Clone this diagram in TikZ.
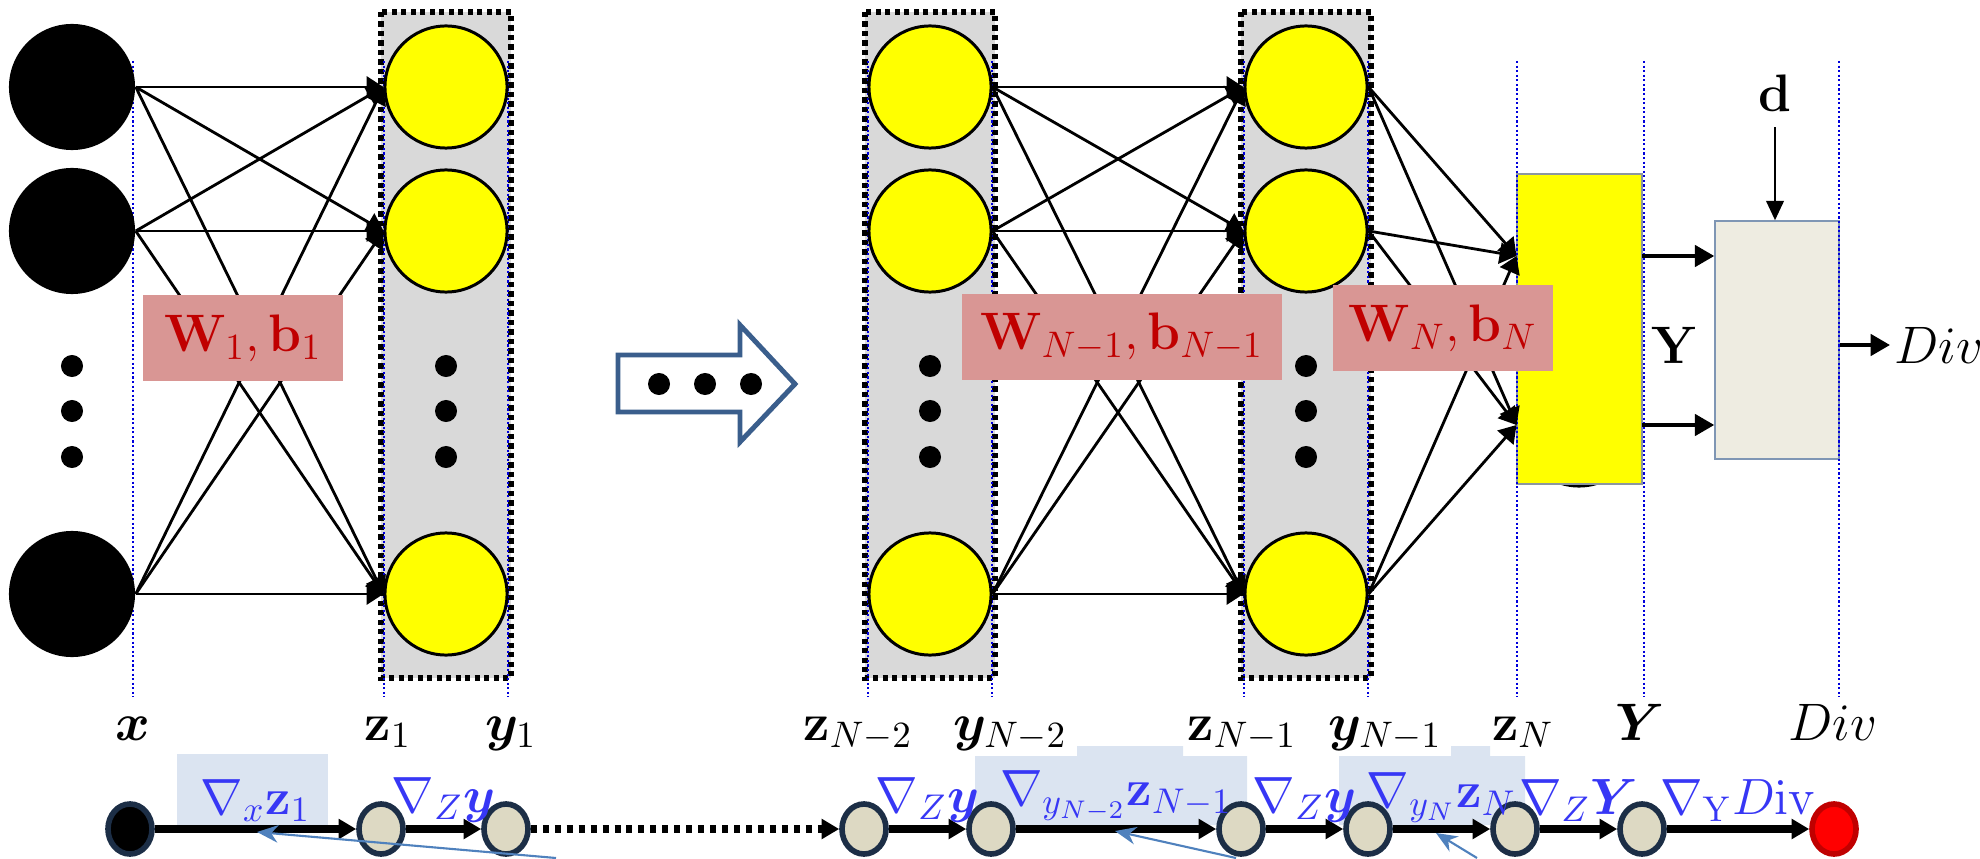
\documentclass[tikz,border=0pt]{standalone}
\usepackage{fix-cm}
\usepackage{amsmath,amssymb}
\usepackage{bm}
\usepackage{tikz}
\usetikzlibrary{arrows.meta,positioning,calc,shapes.geometric}
\usepackage{xcolor}
\definecolor{boxgray}{RGB}{217,217,217}
\definecolor{wfill}{RGB}{217,150,148}
\definecolor{wtext}{RGB}{192,0,0}
\definecolor{guide}{RGB}{0,0,220}
\definecolor{hlblue}{RGB}{219,228,241}
\definecolor{gradblue}{RGB}{55,55,245}
\definecolor{navy}{RGB}{28,46,70}
\definecolor{beigeF}{RGB}{221,217,195}
\definecolor{skipblue}{RGB}{58,94,140}
\definecolor{steel}{RGB}{79,129,189}
\definecolor{lossF}{RGB}{238,236,225}
\definecolor{lossB}{RGB}{127,150,180}
\definecolor{outB}{RGB}{140,150,160}
\definecolor{yel}{RGB}{255,255,0}
\tikzset{
  innode/.style={circle,fill=black,minimum size=1.26cm,inner sep=0pt},
  neuron/.style={circle,draw=black,line width=0.85pt,fill=yel,minimum size=1.22cm,inner sep=0pt},
  layer/.style={draw=black,fill=boxgray,line width=1.6pt,dash pattern=on 1.5pt off 1.2pt},
  guideline/.style={guide,line width=0.8pt,dash pattern=on 0.6pt off 0.7pt},
  wbox/.style={fill=wfill,text=wtext,font=\fontsize{15}{18}\selectfont,inner sep=0pt},
  conn/.style={-{Triangle[length=4.8pt,width=6pt]},line width=0.8pt},
  fat/.style={-{Triangle[length=5.5pt,width=6pt]},line width=1.2pt},
  thinarr/.style={-{Triangle[length=5.5pt,width=5pt]},line width=0.6pt},
  outbox/.style={draw=outB,fill=yel,line width=0.4pt,minimum width=1.25cm,minimum height=3.10cm,inner sep=0pt},
  lossbox/.style={draw=lossB,fill=lossF,line width=0.4pt,minimum width=1.24cm,minimum height=2.38cm,inner sep=0pt},
  vlab/.style={font=\fontsize{15}{18}\selectfont,anchor=base},
  cnode/.style={ellipse,draw=navy,line width=1.6pt,fill=beigeF,minimum width=0.44cm,minimum height=0.50cm,inner sep=0pt},
  chainarr/.style={-{Triangle[length=5pt,width=5.5pt]},line width=2pt},
  chaindot/.style={chainarr,dash pattern=on 1.7pt off 1.7pt},
  gradlbl/.style={text=gradblue,font=\fontsize{14.5}{17}\selectfont,inner sep=1pt},
  steelarr/.style={steel,-{Stealth[length=6pt,width=5pt]},line width=0.6pt},
}
\newcommand{\colvdots}[1]{\fill (#1,366) circle[radius=0.11cm] (#1,411) circle[radius=0.11cm] (#1,457) circle[radius=0.11cm];}

\begin{document}
\begin{tikzpicture}[x=0.01cm,y=-0.01cm]
\useasboundingbox (0,0) rectangle (1980,858);

% layer boxes
\draw[layer] (381,12) rectangle (511,678);
\draw[layer] (865,12) rectangle (995,678);
\draw[layer] (1241,12) rectangle (1371,678);

% output layer and divergence box
\node[neuron] (o1) at (1579,256) {};
\node[neuron] (o2) at (1579,425) {};
\node[outbox] (yout) at (1579.5,329) {};
\node[lossbox] (dv) at (1777,340) {};

% guide lines
\draw[guideline] (133,61) -- (133,697) (384,61) -- (384,697) (508,61) -- (508,697)
  (868,61) -- (868,697) (992,61) -- (992,697) (1244,61) -- (1244,697)
  (1368,61) -- (1368,697) (1517,61) -- (1517,697) (1644,61) -- (1644,697)
  (1839,61) -- (1839,697);

% neurons
\node[innode] (i1) at (72,87) {};
\node[innode] (i2) at (72,231) {};
\node[innode] (i3) at (72,594) {};
\node[neuron] (a1) at (446,87) {};
\node[neuron] (a2) at (446,231) {};
\node[neuron] (a3) at (446,594) {};
\node[neuron] (p1) at (930,87) {};
\node[neuron] (p2) at (930,231) {};
\node[neuron] (p3) at (930,594) {};
\node[neuron] (q1) at (1306,87) {};
\node[neuron] (q2) at (1306,231) {};
\node[neuron] (q3) at (1306,594) {};
\colvdots{72}
\colvdots{446}
\colvdots{930}
\colvdots{1306}

% weights
\path (i1.east) edge[conn] (a1.west) edge[conn] (a2.west) edge[conn] (a3.west);
\path (i2.east) edge[conn] (a1.west) edge[conn] (a2.west) edge[conn] (a3.west);
\path (i3.east) edge[conn] (a1.west) edge[conn] (a2.west) edge[conn] (a3.west);
\path (p1.east) edge[conn] (q1.west) edge[conn] (q2.west) edge[conn] (q3.west);
\path (p2.east) edge[conn] (q1.west) edge[conn] (q2.west) edge[conn] (q3.west);
\path (p3.east) edge[conn] (q1.west) edge[conn] (q2.west) edge[conn] (q3.west);
\path (q1.east) edge[conn] (o1.west) edge[conn] (o2.west);
\path (q2.east) edge[conn] (o1.west) edge[conn] (o2.west);
\path (q3.east) edge[conn] (o1.west) edge[conn] (o2.west);

% weight labels
\node[wbox,minimum width=2.0cm,minimum height=0.85cm] (w1) at (243,338) {$\mathbf{W}_1,\mathbf{b}_1$};
\node[wbox,minimum width=3.2cm,minimum height=0.85cm] (wn1) at (1122,337) {$\mathbf{W}_{N-1},\mathbf{b}_{N-1}$};
\node[wbox,minimum width=2.19cm,minimum height=0.86cm] (wn) at (1443,328) {$\mathbf{W}_{N},\mathbf{b}_{N}$};

% skipped layers
\draw[skipblue,line width=1.4pt] (618,355) -- (740,355) -- (740,325) -- (795,384)
  -- (740,442) -- (740,412) -- (618,412) -- cycle;
\fill (659,384) circle[radius=0.11cm] (705,384) circle[radius=0.11cm] (751,384) circle[radius=0.11cm];

% output side
\draw[fat] (o1.east) -- (o1.east -| dv.west);
\draw[fat] (o2.east) -- (o2.east -| dv.west);
\node[font=\fontsize{15}{18}\selectfont] (ylbl) at (1675,345) {$\mathbf{Y}$};
\node[font=\fontsize{15}{18}\selectfont,inner sep=0.15cm] (dlbl) at (1775,93) {$\mathbf{d}$};
\draw[thinarr] (dlbl) -- (dlbl |- dv.north);
\node[font=\fontsize{15}{18}\selectfont,anchor=west,inner sep=1pt] (divout) at (1890,345) {$Div$};
\draw[fat] (dv.east |- divout.west) -- (divout.west);

% variable names
\node[vlab] (lx) at (133,740) {$\bm{x}$};
\node[vlab] (lz1) at (388,740) {$\mathbf{z}_1$};
\node[vlab] (ly1) at (511,740) {$\bm{y}_1$};
\node[vlab] (lzn2) at (858,740) {$\mathbf{z}_{N-2}$};
\node[vlab] (lyn2) at (1010,740) {$\bm{y}_{N-2}$};
\node[vlab] (lzn1) at (1242,740) {$\mathbf{z}_{N-1}$};
\node[vlab] (lyn1) at (1385,740) {$\bm{y}_{N-1}$};
\node[vlab] (lzn) at (1523,740) {$\mathbf{z}_{N}$};
\node[vlab] (lY) at (1640,740) {$\bm{Y}$};
\node[vlab] (ldiv) at (1833,740) {$Div$};

% backward chain
\fill[hlblue] (177,754) rectangle (328,827);
\fill[hlblue] (975,756) rectangle (1247,825) (1077,746) rectangle (1183,757);
\fill[hlblue] (1339,756) rectangle (1525,825) (1451,746) rectangle (1490,757);
\node[cnode,fill=black] (c0) at (130,829) {};
\node[cnode] (c1) at (381,829) {};
\node[cnode] (c2) at (506,829) {};
\node[cnode] (c3) at (864,829) {};
\node[cnode] (c4) at (991,829) {};
\node[cnode] (c5) at (1241,829) {};
\node[cnode] (c6) at (1368,829) {};
\node[cnode] (c7) at (1515,829) {};
\node[cnode] (c8) at (1642,829) {};
\node[cnode,draw=wtext,fill=red] (c9) at (1834,829) {};
\draw[chainarr] (c0) -- node[gradlbl,above] (g1) {$\nabla_{x}\mathbf{z}_1$} (c1);
\draw[chainarr] (c1) -- node[gradlbl,above] (g2) {$\nabla_{Z}\bm{y}$} (c2);
\draw[chaindot] (c2) -- (c3);
\draw[chainarr] (c3) -- node[gradlbl,above] (g3) {$\nabla_{Z}\bm{y}$} (c4);
\draw[chainarr] (c4) -- node[gradlbl,above] (g4) {$\nabla_{y_{N-2}}\mathbf{z}_{N-1}$} (c5);
\draw[chainarr] (c5) -- node[gradlbl,above] (g5) {$\nabla_{Z}\bm{y}$} (c6);
\draw[chainarr] (c6) -- node[gradlbl,above] (g6) {$\nabla_{y_N}\mathbf{z}_{N}$} (c7);
\draw[chainarr] (c7) -- node[gradlbl,above] (g7) {$\nabla_{Z}\bm{Y}$} (c8);
\draw[chainarr] (c8) -- node[gradlbl,above] (g8) {$\nabla_{\mathrm{Y}}D\mathrm{iv}$} (c9);

% pointers
\coordinate (s1) at (556,858); \coordinate (t1) at (257,832);
\coordinate (s2) at (1236,858); \coordinate (t2) at (1115,831);
\coordinate (s3) at (1477,858); \coordinate (t3) at (1436,833);
\draw[steelarr] (s1) -- (t1);
\draw[steelarr] (s2) -- (t2);
\draw[steelarr] (s3) -- (t3);
\end{tikzpicture}
\end{document}
